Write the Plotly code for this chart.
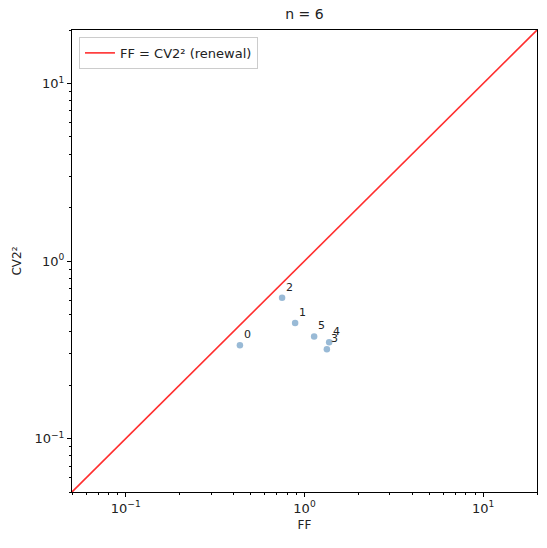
import numpy as np
import plotly.graph_objects as go

# values
neuron_ids = ["0", "1", "2", "3", "4", "5"]
ff_vals = [0.435, 0.886, 0.749, 1.334, 1.374, 1.132]
cv2sq_vals = [0.335, 0.448, 0.620, 0.318, 0.349, 0.376]
renewal_line = [0.05, 20]
tick_vals = [0.1, 1, 10]
tick_text = ["10<sup>\u22121</sup>", "10<sup>0</sup>", "10<sup>1</sup>"]
minor_vals = [m * 10.0**e for e in (-2, -1, 0, 1) for m in range(2, 10)]
minor_vals = [v for v in minor_vals if 0.05 <= v <= 20]

fig = go.Figure()
fig.add_trace(go.Scatter(x=renewal_line, y=renewal_line, mode="lines",
                         line=dict(color="rgba(255,0,0,0.82)", width=1.6),
                         name="FF = CV2\u00b2 (renewal)"))
fig.add_trace(go.Scatter(x=ff_vals, y=cv2sq_vals, mode="markers",
                         marker=dict(color="rgba(70,130,180,0.55)", size=6.5),
                         showlegend=False))

for lab, xv, yv in zip(neuron_ids, ff_vals, cv2sq_vals):
    fig.add_annotation(x=np.log10(xv), y=np.log10(yv), text=lab, showarrow=False,
                       xanchor="left", yanchor="bottom", xshift=2, yshift=2,
                       font=dict(size=11, color="#222"))

axis_common = dict(type="log", showgrid=False, zeroline=False, showline=True,
                   linecolor="black", linewidth=1, mirror=True, ticks="outside",
                   ticklen=4, tickcolor="black", tickvals=tick_vals, ticktext=tick_text,
                   tickfont=dict(size=13, color="#222"),
                   minor=dict(ticks="outside", ticklen=2, tickcolor="black",
                              tickvals=minor_vals, showgrid=False))

fig.update_layout(
    width=547, height=548,
    margin=dict(l=72, r=10, t=30, b=56),
    paper_bgcolor="white", plot_bgcolor="white",
    font=dict(family="DejaVu Sans", color="#222"),
    title=dict(text="n = 6", x=0.5, xref="paper", y=0.975, yanchor="middle",
               font=dict(size=14, color="#222")),
    xaxis=dict(range=[np.log10(0.05), np.log10(20)],
               title=dict(text="FF", font=dict(size=12), standoff=6), **axis_common),
    yaxis=dict(range=[np.log10(0.05), np.log10(20)],
               title=dict(text="CV2\u00b2", font=dict(size=12), standoff=10), **axis_common),
    legend=dict(x=0.015, y=0.985, xanchor="left", yanchor="top",
                bgcolor="rgba(255,255,255,0.8)", bordercolor="#ccc", borderwidth=1,
                font=dict(size=13, color="#222")),
)

fig.write_html("out.html", config={"displayModeBar": False},
               post_script="document.body.style.margin='0';")
